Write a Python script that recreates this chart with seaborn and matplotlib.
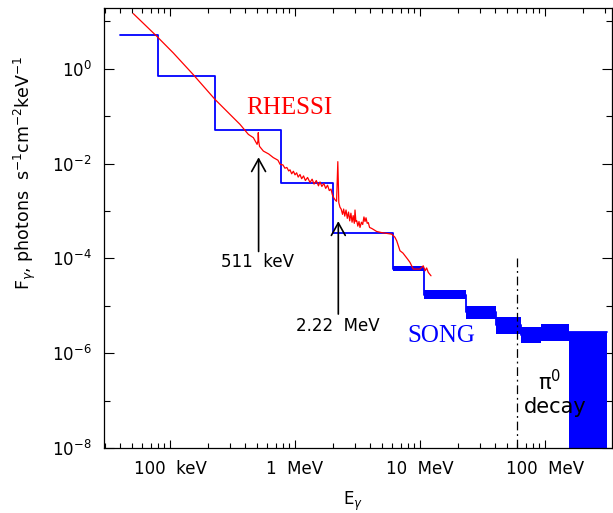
import numpy as np
import pandas as pd
import matplotlib
matplotlib.use("Agg")
import matplotlib.pyplot as plt
from matplotlib.ticker import FixedLocator, LogLocator, NullFormatter
import seaborn as sns

# ---------------- data ----------------
# RHESSI spectrum (energy in keV, flux photons s^-1 cm^-2 keV^-1)
rhessi_energy = [50.8, 78.3, 106, 153, 229, 302, 363, 423, 464, 497, 505, 508, 512, 520,
                 558, 615, 670, 730, 759, 800, 830, 860, 890, 912, 940, 970, 1000, 1030,
                 1060, 1096, 1130, 1170, 1210, 1260, 1318, 1370, 1420, 1480, 1540, 1585,
                 1640, 1700, 1760, 1820, 1880, 1940, 1990, 2040, 2100, 2150, 2200, 2240,
                 2290, 2340, 2400, 2450, 2500, 2560, 2620, 2680, 2740, 2800, 2860, 2920,
                 2980, 3020, 3070, 3120, 3180, 3250, 3311, 3400, 3480, 3560, 3631, 3700,
                 3780, 3857, 3950, 4100, 4230, 4500, 4940, 5939, 6300, 6512, 6918, 7300,
                 7586, 8000, 8318, 8831, 10000, 10620, 11000, 11300, 11650, 12250]
rhessi_flux = [14.6, 4.86, 2.17, 0.759, 0.226, 0.109, 0.0672, 0.0414, 0.0353, 0.0255, 0.030,
               0.045, 0.030, 0.0231, 0.0184, 0.0160, 0.0134, 0.0118, 0.00966, 0.0094, 0.0080,
               0.0083, 0.0070, 0.0074, 0.0061, 0.0069, 0.0058, 0.0064, 0.0052, 0.0059, 0.0048,
               0.0055, 0.0044, 0.0051, 0.0040, 0.0047, 0.0037, 0.0044, 0.0034, 0.0041, 0.0033,
               0.0038, 0.0030, 0.0035, 0.0027, 0.0029, 0.0022, 0.0019, 0.0017, 0.0016, 0.0110,
               0.0015, 0.0012, 0.0011, 0.00085, 0.0011, 0.00078, 0.00105, 0.0007, 0.00095,
               0.00062, 0.0009, 0.00058, 0.0008, 0.00055, 0.00105, 0.0006, 0.00062, 0.00048,
               0.0006, 0.00045, 0.00058, 0.00052, 0.00075, 0.0006, 0.00072, 0.00055, 0.00057,
               0.00045, 0.00043, 0.00041, 0.00037, 0.00035, 0.000325, 0.00028, 0.000235,
               0.000145, 0.00013, 0.000114, 9.5e-5, 8.24e-5, 5.96e-5, 5.96e-5, 6.98e-5,
               5.5e-5, 6.3e-5, 5.07e-5, 4.3e-5]

# SONG thin step histogram (bin edges in keV, values)
song_step_edges = [40, 80, 230, 770, 2000, 6113, 10820, 23330, 40550, 63900, 92900, 156400, 315000]
song_step_vals = [5.1, 0.72, 0.05, 3.9e-3, 3.36e-4, 5.9e-5, 1.7e-5, 7.3e-6, 3.9e-6, 2.4e-6, 2.8e-6, 2.85e-6]

# SONG band bins (left, right edges in keV; upper and lower flux)
band_left = [6113, 10820, 23330, 40550, 63900, 92900, 156400]
band_right = [10820, 23330, 40550, 63900, 92900, 156400, 315000]
band_upper = [6.79e-5, 2.15e-5, 1.0e-5, 5.9e-6, 3.63e-6, 4.14e-6, 2.85e-6]
band_lower = [5.32e-5, 1.39e-5, 5.27e-6, 2.55e-6, 1.62e-6, 1.84e-6, 1e-10]

pi0_threshold = 60000  # keV
x_tick_vals = [100, 1000, 1e4, 1e5]
x_tick_labels = ["100  keV", "1  MeV", "10  MeV", "100  MeV"]
y_tick_vals = [1e-8, 1e-6, 1e-4, 1e-2, 1e0]
y_tick_labels = [r"$10^{-8}$", r"$10^{-6}$", r"$10^{-4}$", r"$10^{-2}$", r"$10^{0}$"]
y_minor_vals = [1e-7, 1e-5, 1e-3, 1e-1, 1e1]

# ---------------- plot ----------------
sns.set_style("ticks")
plt.rcParams['font.family'] = ['DejaVu Sans']
plt.rcParams['mathtext.fontset'] = 'dejavusans'

fig = plt.figure(figsize=(6.13, 5.13), dpi=100)
ax = fig.add_axes([104 / 613, (513 - 448) / 513, 508 / 613, 440 / 513])
ax.set_xscale('log')
ax.set_yscale('log')

# SONG bands
widths = [r - l for l, r in zip(band_left, band_right)]
heights = [u - lo for u, lo in zip(band_upper, band_lower)]
ax.bar(band_left, heights, width=widths, bottom=band_lower, align='edge',
       color='#0000ff', edgecolor='none', zorder=2)

# SONG thin step line
step_df = pd.DataFrame({"E": song_step_edges, "F": song_step_vals + [song_step_vals[-1]]})
sns.lineplot(data=step_df, x="E", y="F", drawstyle='steps-post', color='#0000ff',
             lw=1.3, estimator=None, sort=False, ax=ax, zorder=3)

# RHESSI
red_df = pd.DataFrame({"E": rhessi_energy, "F": rhessi_flux})
sns.lineplot(data=red_df, x="E", y="F", color='#ff0000', lw=0.9,
             estimator=None, sort=False, ax=ax, zorder=4)

# pi0 threshold line
ax.plot([pi0_threshold, pi0_threshold], [1e-4, 1e-9], color='black', lw=0.9,
        dashes=(7, 3, 1.5, 3), zorder=5)

ax.set_xlim(29.6, 344000)
ax.set_ylim(1e-8, 19.2)

# ticks
ax.xaxis.set_major_locator(FixedLocator(x_tick_vals))
ax.set_xticklabels(x_tick_labels)
ax.xaxis.set_minor_locator(LogLocator(base=10, subs=np.arange(2, 10), numticks=20))
ax.xaxis.set_minor_formatter(NullFormatter())
ax.yaxis.set_major_locator(FixedLocator(y_tick_vals))
ax.set_yticklabels(y_tick_labels)
ax.yaxis.set_minor_locator(FixedLocator(y_minor_vals))
ax.yaxis.set_minor_formatter(NullFormatter())

ax.tick_params(axis='both', which='both', direction='in', top=True, right=True,
               color='black', width=0.8, labelcolor='black')
ax.tick_params(axis='x', which='major', length=6, pad=9, labelsize=12)
ax.tick_params(axis='x', which='minor', length=3.3)
ax.tick_params(axis='y', which='major', length=7.5, pad=9, labelsize=12)
ax.tick_params(axis='y', which='minor', length=4.5)
for s in ax.spines.values():
    s.set_color('black')
    s.set_linewidth(0.9)

ax.set_xlabel(r"E$_\gamma$", fontsize=12, color='black')
ax.xaxis.set_label_coords(0.49, -0.095)
ax.set_ylabel(r"F$_\gamma$, photons  s$^{-1}$cm$^{-2}$keV$^{-1}$", fontsize=12.5,
              color='black', va='center')
ax.yaxis.set_label_coords(-0.156, 0.626)

# annotations
ax.text(895, 0.109, "RHESSI", color='#ff0000', fontsize=18, family='Liberation Serif',
        ha='center', va='baseline', zorder=6)
ax.text(14920, 1.71e-6, "SONG", color='#0000ff', fontsize=18, family='Liberation Serif',
        ha='center', va='baseline', zorder=6)

arrow_kw = dict(arrowstyle='->,head_length=0.45,head_width=0.25', color='black', lw=1.2,
                mutation_scale=20, shrinkA=0, shrinkB=0)
ax.annotate("", xy=(511, 0.0136), xytext=(511, 1.4e-4), arrowprops=arrow_kw, zorder=6)
ax.text(505, 6.5e-5, "511  keV", fontsize=12, ha='center', va='baseline', color='black')
ax.annotate("", xy=(2220, 6.1e-4), xytext=(2220, 6.7e-6), arrowprops=arrow_kw, zorder=6)
ax.text(2190, 2.99e-6, "2.22  MeV", fontsize=12, ha='center', va='baseline', color='black')

ax.text(1.096e5, 1.63e-7, r"π$^0$", fontsize=15, ha='center', va='baseline',
        color='black', zorder=6)
ax.text(1.2e5, 5.5e-8, "decay", fontsize=15, ha='center', va='baseline',
        color='black', zorder=6)

fig.savefig("out.png", dpi=100)
